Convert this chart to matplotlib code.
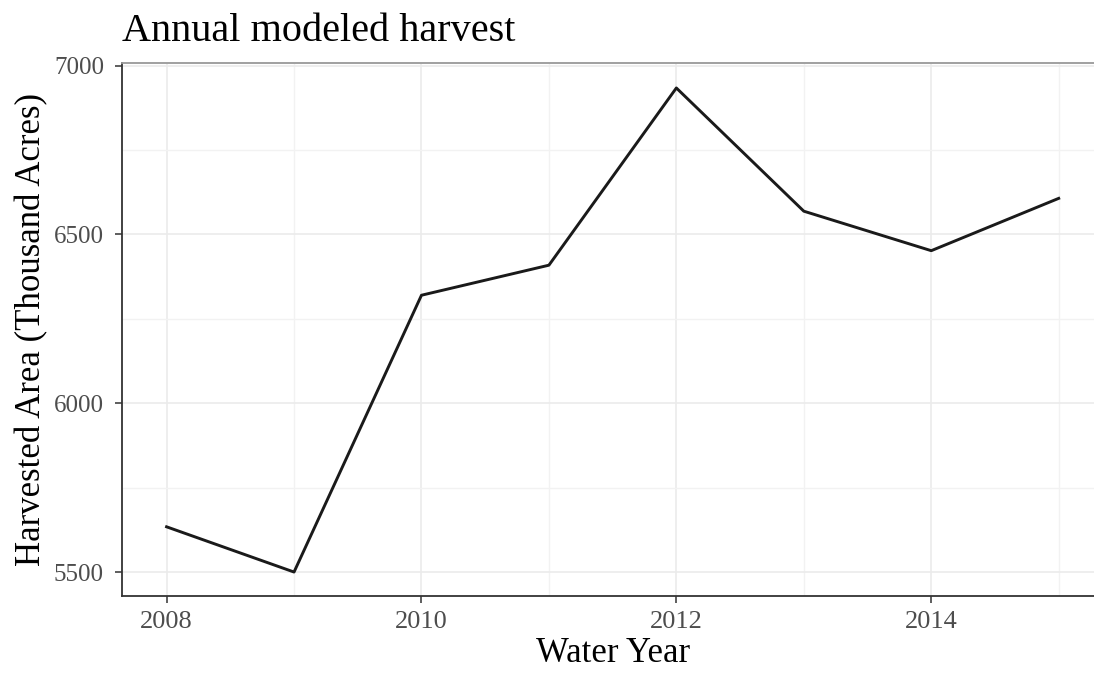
import numpy as np
import matplotlib.pyplot as plt

# modeled harvested area by water year (thousand acres)
years = [2008, 2009, 2010, 2011, 2012, 2013, 2014, 2015]
harvest = [5634, 5500, 6320, 6409, 6934, 6569, 6452, 6607]

x_ticks = [2008, 2010, 2012, 2014]
y_ticks = [5500, 6000, 6500, 7000]

plt.rcParams["font.family"] = ["Liberation Serif", "DejaVu Serif"]

fig = plt.figure(figsize=(10.94, 6.73), dpi=100)
ax = fig.add_axes([0.1115, 0.1144, 0.897, 0.792])

ax.plot(years, harvest, color="#1a1a1a", linewidth=2.1, zorder=3)

ax.set_xlim(2007.65, 2015.35)
ax.set_ylim(5429, 7008)

ax.set_xticks(x_ticks)
ax.set_yticks(y_ticks)
ax.set_xticks([2009, 2011, 2013, 2015], minor=True)
ax.set_yticks([5750, 6250, 6750], minor=True)

ax.grid(which="major", color="#ebebeb", linewidth=1.2)
ax.grid(which="minor", color="#f2f2f2", linewidth=1.0)
ax.set_axisbelow(True)

ax.tick_params(which="major", length=5, width=1.1, color="#333333",
               labelsize=18, labelcolor="#4d4d4d")
ax.tick_params(axis="x", which="major", pad=6, labelsize=19)
ax.tick_params(axis="y", which="major", pad=8)
ax.tick_params(which="minor", length=0)

for side in ["left", "bottom"]:
    ax.spines[side].set_color("#333333")
    ax.spines[side].set_linewidth(1.3)
ax.spines["top"].set_color("#999999")
ax.spines["top"].set_linewidth(1.3)
ax.spines["right"].set_visible(False)

ax.set_xlabel("Water Year", fontsize=25, color="black", labelpad=3)
ax.set_ylabel("Harvested Area (Thousand Acres)", fontsize=25, color="black", labelpad=4)
ax.set_title("Annual modeled harvest", fontsize=29, loc="left", pad=16)

fig.savefig("out.png", dpi=100)
